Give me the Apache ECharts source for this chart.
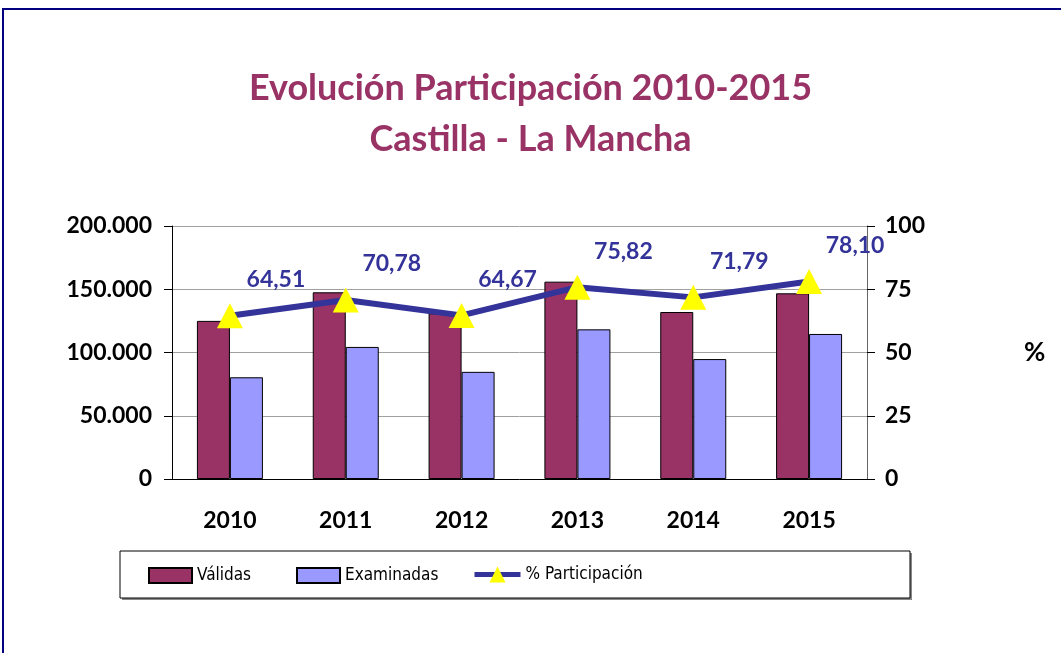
<!DOCTYPE html>
<html>
<head>
<meta charset="utf-8">
<script src="https://cdn.jsdelivr.net/npm/echarts@6/dist/echarts.min.js"></script>
<style>
  html, body { margin: 0; padding: 0; background: #fff; }
  #chart { width: 1061px; height: 653px; }
</style>
</head>
<body>
<div id="chart"></div>
<script>
const years = ['2010', '2011', '2012', '2013', '2014', '2015']
const validas = [125000, 147600, 131000, 156000, 132000, 146800]
const examinadas = [80400, 104400, 84700, 118300, 94800, 114650]
const participacion = [64.51, 70.78, 64.67, 75.82, 71.79, 78.10]

const font = 'Lato, "Open Sans", sans-serif'
const legendFont = '"Liberation Sans Narrow", "DejaVu Sans Condensed", sans-serif'
const chart = echarts.init(document.getElementById('chart'))

const fmtThousands = v => String(v).replace(/\B(?=(\d{3})+(?!\d))/g, '.')

const legendBase = {
    top: 567,
    padding: 0,
    itemWidth: 43,
    itemHeight: 15,
    itemGap: 4,
    textStyle: { fontFamily: legendFont, fontSize: 17, color: '#000' },
    selectedMode: false
}

chart.setOption({
    animation: false,
    title: {
        text: 'Evolución Participación 2010-2015\nCastilla - La Mancha',
        left: 'center',
        top: 63,
        padding: 0,
        textStyle: {
            fontFamily: font,
            fontSize: 36,
            fontWeight: 'bold',
            color: '#993366',
            lineHeight: 51
        }
    },
    graphic: [
        {
            type: 'rect',
            shape: { x: 3, y: 9, width: 1100, height: 700 },
            style: { fill: 'none', stroke: '#000080', lineWidth: 2 },
            silent: true
        },
        {
            type: 'rect',
            shape: { x: 122, y: 553, width: 790, height: 47 },
            style: { fill: '#888' },
            silent: true
        },
        {
            type: 'rect',
            shape: { x: 120, y: 551, width: 790, height: 47 },
            style: { fill: '#fff', stroke: '#000', lineWidth: 1 },
            silent: true
        }
    ],
    legend: [
        { ...legendBase, left: 148, icon: 'rect', data: ['Válidas'] },
        { ...legendBase, left: 296, icon: 'rect', data: ['Examinadas'] },
        {
            ...legendBase,
            left: 472,
            top: 566,
            itemWidth: 46,
            itemHeight: 20,
            lineStyle: { width: 5 },
            data: ['% Participación']
        }
    ],
    grid: { left: 172, right: 194, top: 226, height: 253 },
    xAxis: {
        type: 'category',
        data: years,
        axisLine: { lineStyle: { color: '#000', width: 1 } },
        axisTick: { length: 8, lineStyle: { color: '#000' } },
        axisLabel: {
            margin: 30,
            fontFamily: font,
            fontSize: 23,
            fontWeight: 'bold',
            color: '#000'
        }
    },
    yAxis: [
        {
            type: 'value',
            min: 0,
            max: 200000,
            interval: 50000,
            axisLine: { show: true, lineStyle: { color: '#000' } },
            axisTick: { show: true, length: 8, lineStyle: { color: '#000' } },
            splitLine: { lineStyle: { color: '#a0a0a0' } },
            axisLabel: {
                margin: 20,
                fontFamily: font,
                fontSize: 23,
                fontWeight: 'bold',
                color: '#000',
                formatter: fmtThousands
            }
        },
        {
            type: 'value',
            min: 0,
            max: 100,
            interval: 25,
            position: 'right',
            name: '%',
            nameLocation: 'middle',
            nameRotate: 0,
            nameGap: 157,
            nameTextStyle: {
                fontFamily: font,
                fontSize: 26,
                fontWeight: 'bold',
                color: '#000'
            },
            axisLine: { show: true, lineStyle: { color: '#666' } },
            axisTick: { show: true, length: 8, lineStyle: { color: '#000' } },
            splitLine: { show: false },
            axisLabel: {
                margin: 18,
                fontFamily: font,
                fontSize: 23,
                fontWeight: 'bold',
                color: '#000'
            }
        }
    ],
    series: [
        {
            name: 'Válidas',
            type: 'bar',
            data: validas,
            barWidth: 33,
            barGap: '0%',
            itemStyle: { color: '#993366', borderColor: '#000', borderWidth: 1 }
        },
        {
            name: 'Examinadas',
            type: 'bar',
            data: examinadas,
            barWidth: 33,
            barGap: '0%',
            itemStyle: { color: '#9999FF', borderColor: '#000', borderWidth: 1 }
        },
        {
            name: '% Participación',
            type: 'line',
            yAxisIndex: 1,
            data: participacion,
            symbol: 'triangle',
            symbolSize: [26, 25],
            z: 5,
            lineStyle: { color: '#333399', width: 6 },
            itemStyle: { color: '#FFFF00', borderWidth: 0 },
            label: {
                show: true,
                position: 'inside',
                offset: [46, -36],
                fontFamily: font,
                fontSize: 23,
                fontWeight: 'bold',
                color: '#333399',
                formatter: p => p.value.toFixed(2).replace('.', ',')
            }
        }
    ]
})
</script>
</body>
</html>
